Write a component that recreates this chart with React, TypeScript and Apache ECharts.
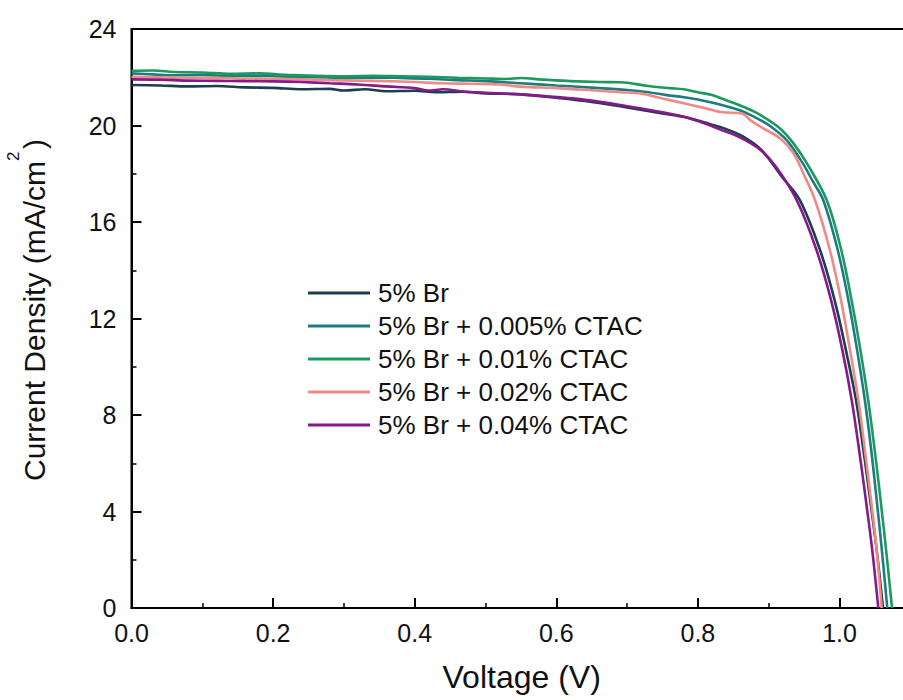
import React, { useEffect, useRef } from "react";
import * as echarts from "echarts";

const seriesNames = [
  "5% Br",
  "5% Br + 0.005% CTAC",
  "5% Br + 0.01% CTAC",
  "5% Br + 0.02% CTAC",
  "5% Br + 0.04% CTAC",
];
const seriesColors = ["#1b3f4e", "#1e7c80", "#1c9a5e", "#ef8a86", "#871a8a"];

const xTickValues = [0, 0.2, 0.4, 0.6, 0.8, 1.0];
const yTickValues = [0, 4, 8, 12, 16, 20, 24];

// 5% Br
const vBr = [0, 0.04, 0.08, 0.12, 0.16, 0.2, 0.24, 0.28, 0.3, 0.33, 0.36, 0.4, 0.43, 0.47, 0.5, 0.55, 0.6, 0.65, 0.7, 0.75, 0.78, 0.81, 0.84, 0.864, 0.89, 0.918, 0.944, 0.9725, 0.993, 1.009, 1.0233, 1.0338, 1.0433, 1.0525, 1.0615];
const jBr = [21.68, 21.66, 21.62, 21.64, 21.58, 21.56, 21.5, 21.52, 21.45, 21.5, 21.42, 21.44, 21.38, 21.4, 21.33, 21.29, 21.15, 20.98, 20.75, 20.5, 20.36, 20.12, 19.85, 19.54, 18.98, 17.9, 16.91, 14.84, 12.77, 10.7, 8.62, 6.55, 4.48, 2.41, 0];

// 5% Br + 0.005% CTAC
const v005 = [0, 0.03, 0.06, 0.1, 0.14, 0.18, 0.22, 0.26, 0.3, 0.34, 0.38, 0.42, 0.46, 0.5, 0.55, 0.6, 0.65, 0.7, 0.73, 0.756, 0.78, 0.803, 0.83, 0.86, 0.88, 0.9, 0.925, 0.948, 0.962, 0.977, 0.9975, 1.0125, 1.0248, 1.0358, 1.0448, 1.0525, 1.0598, 1.0675];
const j005 = [22.16, 22.12, 22.08, 22.1, 22.05, 22.06, 22.02, 22.0, 21.98, 21.99, 21.97, 21.94, 21.88, 21.84, 21.75, 21.66, 21.57, 21.47, 21.38, 21.26, 21.17, 21.06, 20.88, 20.62, 20.35, 20.02, 19.4, 18.44, 17.7, 16.91, 14.84, 12.77, 10.7, 8.62, 6.55, 4.48, 2.41, 0];

// 5% Br + 0.01% CTAC
const v01 = [0, 0.03, 0.06, 0.1, 0.14, 0.18, 0.22, 0.26, 0.3, 0.34, 0.38, 0.42, 0.46, 0.5, 0.53, 0.55, 0.58, 0.62, 0.66, 0.69, 0.73, 0.76, 0.78, 0.8, 0.82, 0.84, 0.864, 0.888, 0.916, 0.935, 0.954, 0.9819, 1.0025, 1.017, 1.0295, 1.0405, 1.0497, 1.058, 1.0658, 1.0742];
const j01 = [22.27, 22.28, 22.22, 22.2, 22.14, 22.16, 22.1, 22.06, 22.04, 22.06, 22.04, 22.02, 21.98, 21.95, 21.93, 21.97, 21.9, 21.84, 21.8, 21.79, 21.64, 21.55, 21.5, 21.38, 21.26, 21.05, 20.78, 20.44, 19.88, 19.26, 18.43, 16.91, 14.84, 12.77, 10.7, 8.62, 6.55, 4.48, 2.41, 0];

// 5% Br + 0.02% CTAC
const v02 = [0, 0.04, 0.08, 0.12, 0.16, 0.2, 0.24, 0.28, 0.32, 0.36, 0.4, 0.44, 0.48, 0.52, 0.55, 0.6, 0.65, 0.69, 0.72, 0.75, 0.78, 0.81, 0.835, 0.862, 0.875, 0.89, 0.916, 0.935, 0.95, 0.9654, 0.9864, 1.0021, 1.0148, 1.0266, 1.0358, 1.0445, 1.0525, 1.0596];
const j02 = [22.02, 22.0, 21.97, 21.98, 21.94, 21.93, 21.91, 21.88, 21.86, 21.84, 21.8, 21.75, 21.73, 21.7, 21.61, 21.55, 21.46, 21.38, 21.32, 21.12, 20.92, 20.72, 20.55, 20.5, 20.2, 19.92, 19.47, 18.85, 17.95, 16.91, 14.84, 12.77, 10.7, 8.62, 6.55, 4.48, 2.41, 0];

// 5% Br + 0.04% CTAC
const v04 = [0, 0.04, 0.08, 0.12, 0.16, 0.2, 0.24, 0.28, 0.32, 0.36, 0.4, 0.42, 0.44, 0.47, 0.5, 0.55, 0.6, 0.65, 0.7, 0.75, 0.78, 0.81, 0.83, 0.86, 0.888, 0.91, 0.9395, 0.9675, 0.988, 1.004, 1.0172, 1.0277, 1.0372, 1.0462, 1.0548];
const j04 = [21.91, 21.9, 21.86, 21.85, 21.84, 21.83, 21.8, 21.75, 21.7, 21.62, 21.55, 21.45, 21.5, 21.4, 21.36, 21.29, 21.18, 21.03, 20.8, 20.55, 20.36, 20.08, 19.85, 19.5, 19.0, 18.3, 16.91, 14.84, 12.77, 10.7, 8.62, 6.55, 4.48, 2.41, 0];

const voltages = [vBr, v005, v01, v02, v04];
const currents = [jBr, j005, j01, j02, j04];

const FONT = "'Liberation Sans', Arial, sans-serif";

export default function App() {
  const ref = useRef<HTMLDivElement>(null);

  useEffect(() => {
    if (!ref.current) return;
    const chart = echarts.init(ref.current, undefined, { renderer: "svg" });
    const option: any = {
      animation: false,
      backgroundColor: "#ffffff",
      grid: {
        left: 131.5,
        top: 29,
        right: 8.9,
        bottom: 92,
        show: true,
        borderColor: "#000",
        borderWidth: 2,
        backgroundColor: "transparent",
      },
      legend: {
        orient: "vertical",
        left: 303,
        top: 275,
        itemWidth: 62,
        itemHeight: 3,
        itemGap: 7,
        icon: "rect",
        data: seriesNames,
        textStyle: {
          fontFamily: FONT,
          fontSize: 26,
          lineHeight: 26,
          color: "#111",
          padding: [0, 0, 0, 3],
        },
      },
      xAxis: {
        type: "value",
        min: 0,
        max: 1.2,
        interval: 0.2,
        axisLine: { show: true, lineStyle: { color: "#000", width: 2 } },
        axisTick: { show: true, inside: true, length: 10, lineStyle: { color: "#000", width: 2 } },
        minorTick: { show: true, splitNumber: 2, length: 5, lineStyle: { color: "#000", width: 1.5 } },
        splitLine: { show: false },
        minorSplitLine: { show: false },
        axisLabel: {
          fontFamily: FONT,
          fontSize: 25,
          color: "#111",
          margin: 12,
          showMaxLabel: false,
          formatter: (v: number) =>
            xTickValues.some((t) => Math.abs(t - v) < 1e-6) ? v.toFixed(1) : "",
        },
      },
      yAxis: {
        type: "value",
        min: 0,
        max: 24,
        interval: 4,
        axisLine: { show: true, lineStyle: { color: "#000", width: 2 } },
        axisTick: { show: true, inside: true, length: 10, lineStyle: { color: "#000", width: 2 } },
        minorTick: { show: true, splitNumber: 2, length: 5, lineStyle: { color: "#000", width: 1.5 } },
        splitLine: { show: false },
        minorSplitLine: { show: false },
        axisLabel: {
          fontFamily: FONT,
          fontSize: 25,
          color: "#111",
          margin: 15,
          formatter: (v: number) =>
            yTickValues.some((t) => Math.abs(t - v) < 1e-6) ? String(Math.round(v)) : "",
        },
      },
      graphic: [
        {
          type: "text",
          x: 521.7,
          y: 677,
          style: {
            text: "Voltage (V)",
            fontFamily: FONT,
            fontSize: 32,
            fill: "#111",
            align: "center",
            verticalAlign: "middle",
          },
        },
        {
          type: "text",
          x: 34,
          y: 481,
          rotation: Math.PI / 2,
          style: {
            text: "Current Density (mA/cm",
            fontFamily: FONT,
            fontSize: 30,
            fill: "#111",
            align: "left",
            verticalAlign: "middle",
          },
        },
        {
          type: "text",
          x: 13,
          y: 161,
          rotation: Math.PI / 2,
          style: {
            text: "2",
            fontFamily: FONT,
            fontSize: 17,
            fill: "#111",
            align: "left",
            verticalAlign: "middle",
          },
        },
        {
          type: "text",
          x: 34,
          y: 149,
          rotation: Math.PI / 2,
          style: {
            text: ")",
            fontFamily: FONT,
            fontSize: 30,
            fill: "#111",
            align: "left",
            verticalAlign: "middle",
          },
        },
      ],
      series: seriesNames.map((name, i) => ({
        name,
        type: "line",
        showSymbol: false,
        symbol: "none",
        smooth: 0.35,
        color: seriesColors[i],
        lineStyle: { color: seriesColors[i], width: 2.6 },
        data: voltages[i].map((v, k) => [v, currents[i][k]]),
      })),
    };
    chart.setOption(option);
    return () => {
      chart.dispose();
    };
  }, []);

  return (
    <div
      style={{
        position: "fixed",
        left: 0,
        top: 0,
        width: 903,
        height: 700,
        overflow: "hidden",
        background: "#fff",
      }}
    >
      <div ref={ref} style={{ width: 990, height: 700 }} />
    </div>
  );
}
